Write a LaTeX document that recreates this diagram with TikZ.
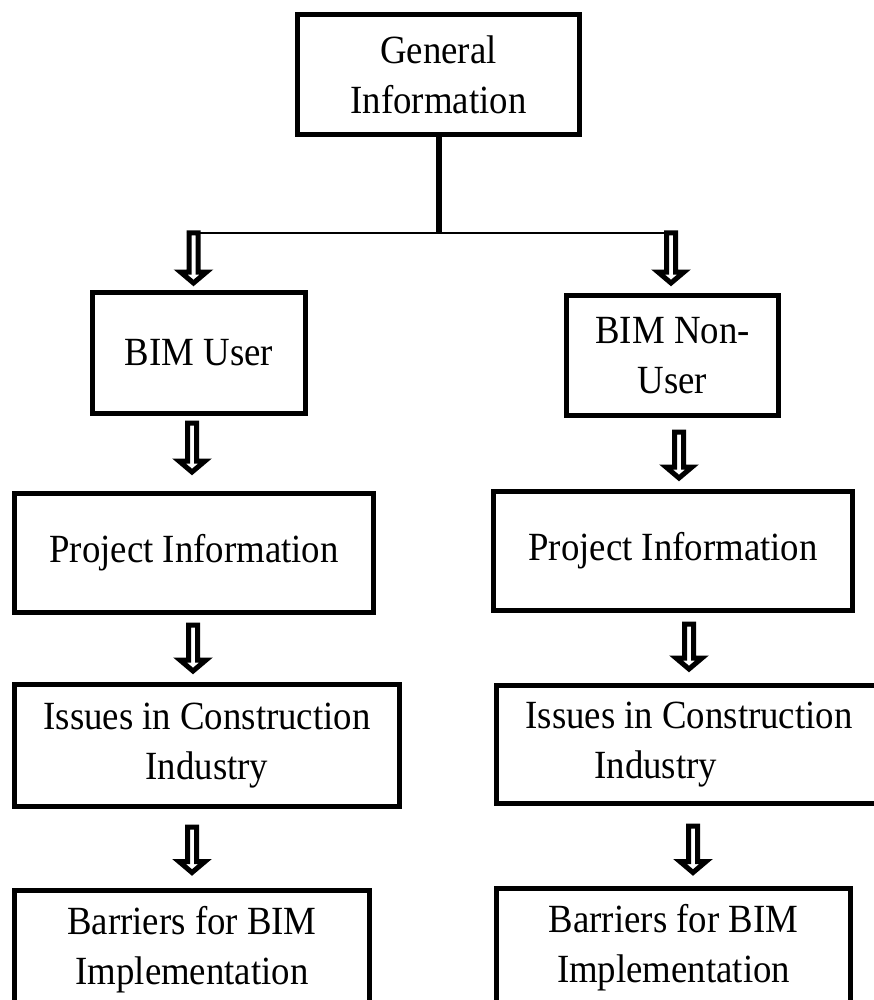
\documentclass[tikz,border=0pt]{standalone}
\usepackage{fontspec}
\setmainfont{Liberation Serif}[FakeStretch=0.92]
\usetikzlibrary{calc,positioning}
\definecolor{ink}{HTML}{000000}
\definecolor{paper}{HTML}{FFFFFF}
\tikzset{
  box/.style={draw=ink, line width=5pt, inner sep=0pt, align=center, text=ink,
    minimum height=119pt, font=\fontsize{40}{50}\selectfont},
  stem/.style={draw=ink, line width=6pt},
  bar/.style={draw=ink, line width=2.5pt},
  hollow/.style={draw=ink, fill=paper, line width=5pt, line join=miter, to path={
    let \p1=(\tikztostart), \p2=(\tikztotarget) in
    (\x1-4.5pt,\y1) -- (\x1+4.5pt,\y1) -- (\x1+4.5pt,\y2+11pt) -- (\x1+13pt,\y2+11pt)
    -- (\x1,\y2) -- (\x1-13pt,\y2+11pt) -- (\x1-4.5pt,\y2+11pt) -- cycle}},
}

\begin{document}
\begin{tikzpicture}[x=1pt,y=-1pt]
\fill[paper] (0,0) rectangle (873,1000);
\useasboundingbox (0,0) rectangle (873,1000);
% top
\node[box, minimum width=282pt, minimum height=120pt] (gi) at (438.5,74.5) {General\\Information};
% users
\node[box, minimum width=213pt, minimum height=121pt] (bu) at (199,353) {BIM User};
\node[box, minimum width=212pt, minimum height=120pt] (bn) at (672.5,355.5) {BIM Non-\\User};
% left column
\node[box, minimum width=359pt] (pl) at (194,553) {Project Information};
\node[box, minimum width=385pt, minimum height=122pt] (il) at (207,745.5) {Issues in Construction\\Industry};
\node[box, minimum width=355pt, minimum height=120pt] (bl) at (192,950) {Barriers for BIM\\Implementation};
% right column
\node[box, minimum width=359pt] (pr) at (673,551) {Project Information};
\node[box, minimum width=385pt, minimum height=118pt] (ir) at (689,744.5) {Issues in Construction\\\makebox[189pt][l]{Industry}};
\node[box, minimum width=354pt, minimum height=120pt] (br) at (673.5,948) {Barriers for BIM\\Implementation};

\coordinate (jl) at (193.5,233);
\coordinate (jr) at (671,233);
\draw[stem] (gi.south) -- (gi.south |- jl);
\draw[bar] ([xshift=-7pt]jl) -- ([xshift=7pt]jr);

\draw[hollow] (jl) to ([yshift=7pt]bu.north);
\draw[hollow] (jr) to ([yshift=10pt]bn.north);
\draw[hollow] ([xshift=-7pt,yshift=-7pt]bu.south) to ([yshift=19pt]pl.north);
\draw[hollow] ([xshift=6.5pt,yshift=-14pt]bn.south) to ([yshift=11pt]pr.north);
\draw[hollow] ([xshift=-1pt,yshift=-10pt]pl.south) to ([yshift=11pt]il.north);
\draw[hollow] ([xshift=16pt,yshift=-11pt]pr.south) to ([yshift=14pt]ir.north);
\draw[hollow] ([xshift=-15pt,yshift=-18pt]il.south) to ([yshift=15pt]bl.north);
\draw[hollow] ([xshift=4pt,yshift=-20pt]ir.south) to ([yshift=13pt]br.north);
\end{tikzpicture}
\end{document}
